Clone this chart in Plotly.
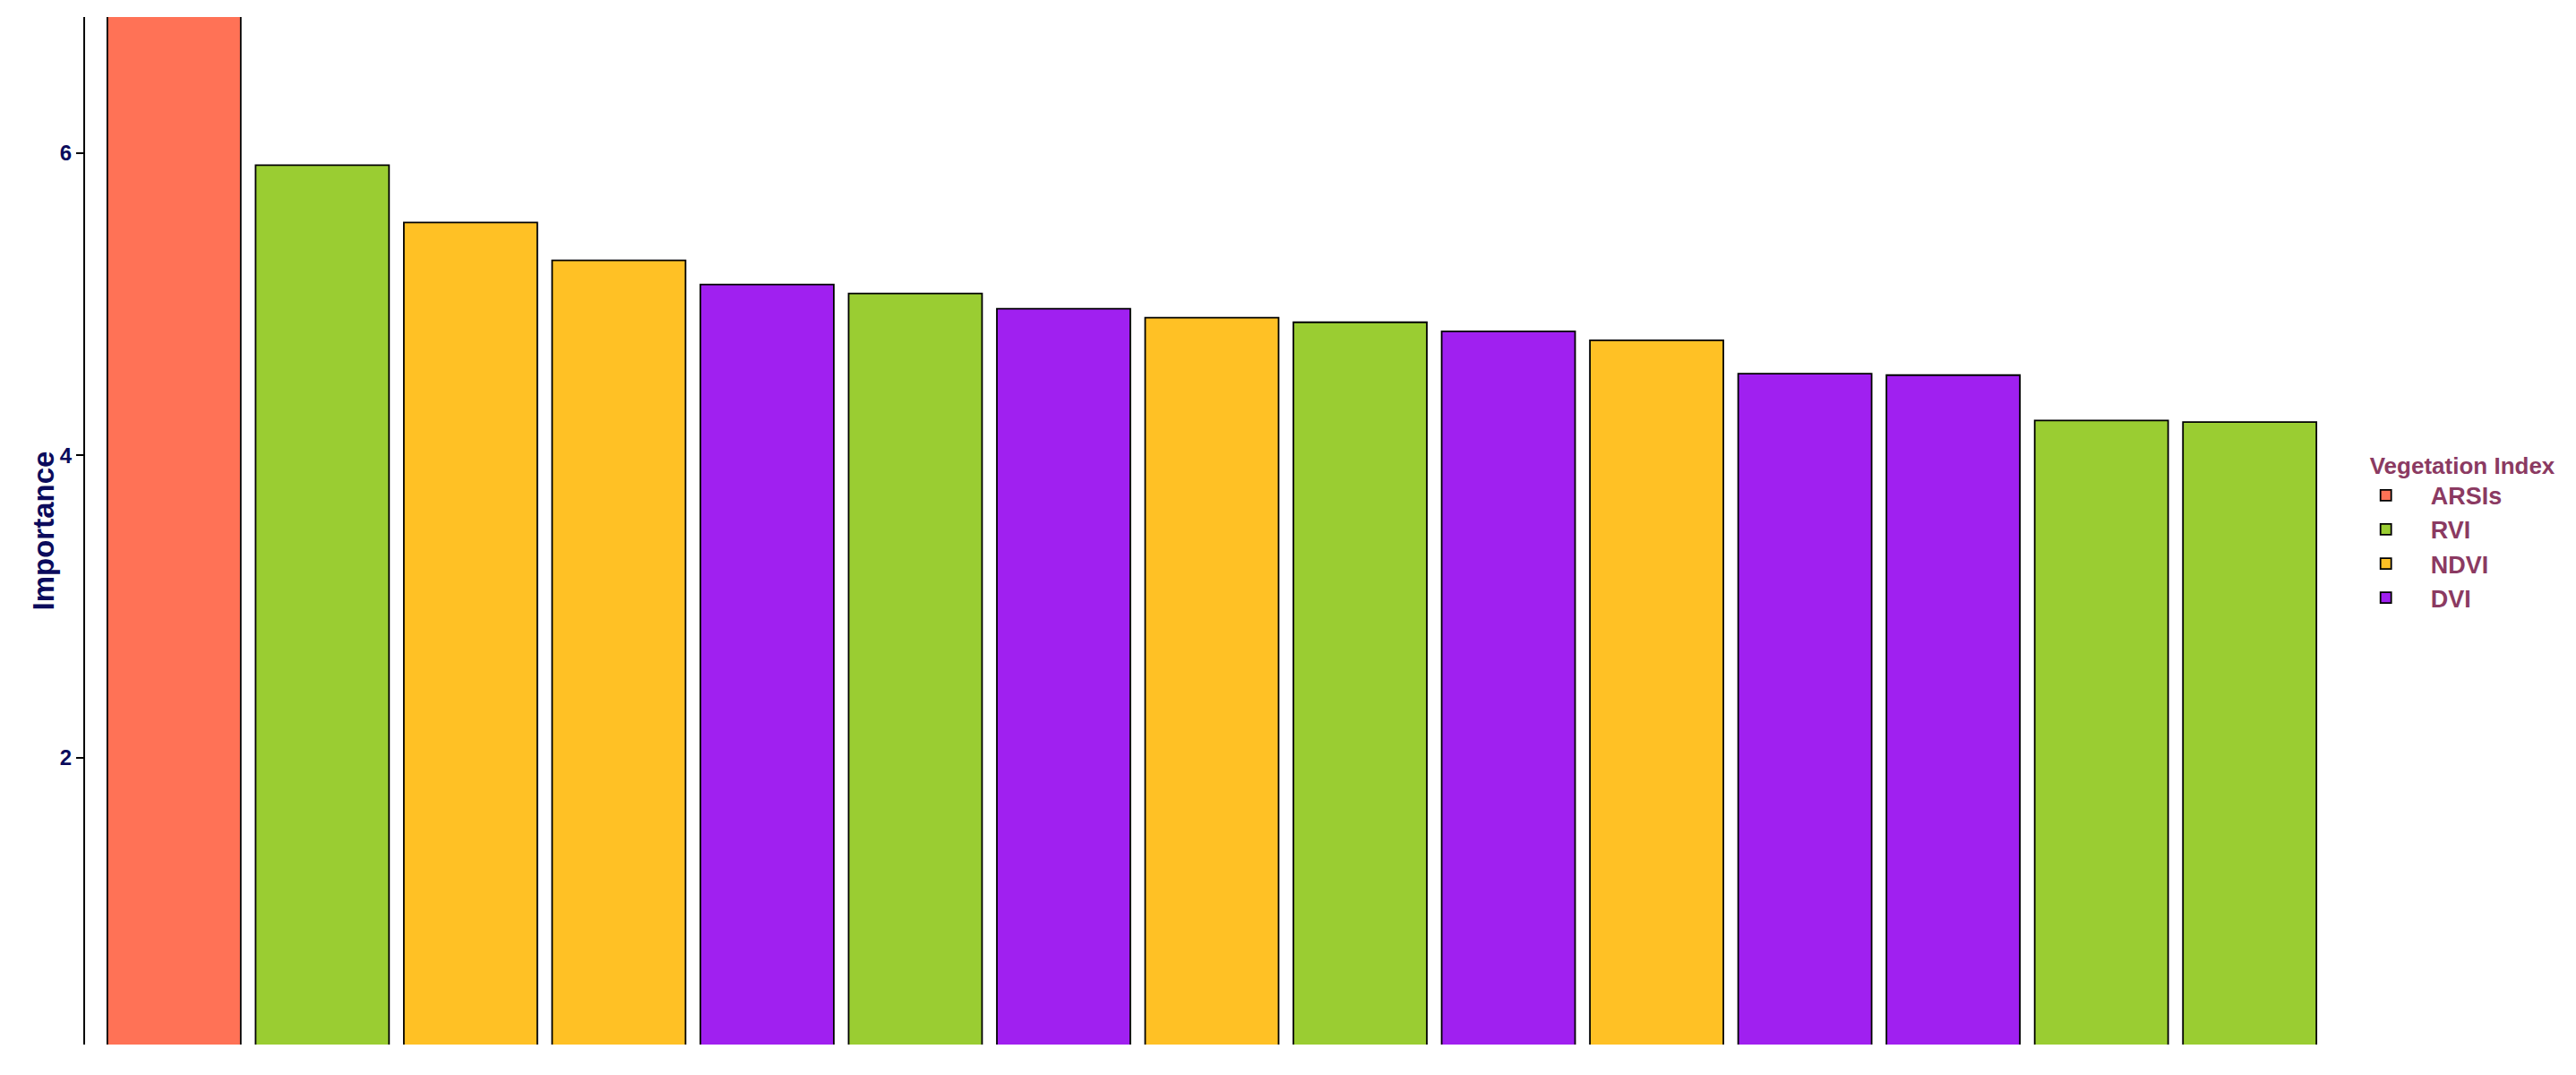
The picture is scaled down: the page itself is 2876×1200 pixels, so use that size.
import plotly.graph_objects as go

# bars sorted by importance, left to right
rank = list(range(1, 16))
index_type = ["ARSIs", "RVI", "NDVI", "NDVI", "DVI", "RVI", "DVI", "NDVI",
              "RVI", "DVI", "NDVI", "DVI", "DVI", "RVI", "RVI"]
importance = [7.40, 5.92, 5.54, 5.29, 5.13, 5.07, 4.97, 4.91,
              4.88, 4.82, 4.76, 4.54, 4.53, 4.23, 4.22]

groups = ["ARSIs", "RVI", "NDVI", "DVI"]
group_colors = {"ARSIs": "#FF7256", "RVI": "#9ACD32",
                "NDVI": "#FFC125", "DVI": "#A020F0"}

navy = "#0B0B5C"
legend_col = "#8B3A62"
font_family = "Liberation Sans, Arial, sans-serif"

fig = go.Figure()
for g in groups:
    xs = [r for r, t in zip(rank, index_type) if t == g]
    ys = [v for v, t in zip(importance, index_type) if t == g]
    fig.add_trace(go.Bar(
        x=xs, y=ys, name="&nbsp;&nbsp;&nbsp;&nbsp;<b>" + g + "</b>", width=0.9,
        marker=dict(color=group_colors[g], line=dict(color="black", width=1.8)),
    ))

fig.update_layout(
    width=2876, height=1200,
    barmode="overlay",
    plot_bgcolor="white", paper_bgcolor="white",
    margin=dict(l=87, r=273, t=11, b=42),
    font=dict(family=font_family),
    legend=dict(
        title=dict(text="<b>Vegetation Index</b>",
                   font=dict(size=26, color=legend_col, family=font_family)),
        font=dict(size=27, color=legend_col, family=font_family),
        x=1.013, xanchor="left", y=0.585, yanchor="top",
        traceorder="normal", tracegroupgap=0,
        bgcolor="rgba(0,0,0,0)",
    ),
    xaxis=dict(range=[0.4, 15.6], visible=False, fixedrange=True),
    yaxis=dict(
        range=[0.1, 6.9], tickvals=[2, 4, 6], ticktext=["<b>2</b>", "<b>4</b>", "<b>6</b>"],
        ticks="outside", ticklen=8, tickwidth=1.5, tickcolor="black",
        showline=True, linecolor="black", linewidth=2,
        showgrid=False, zeroline=False,
        tickfont=dict(size=24, color=navy, family=font_family),
    ),
    annotations=[dict(
        text="<b>Importance</b>", textangle=-90,
        xref="paper", yref="paper", x=0, y=0.5, xshift=-47,
        xanchor="center", yanchor="middle", showarrow=False,
        font=dict(size=33, color=navy, family=font_family),
    )],
)

fig.write_html("out.html")
